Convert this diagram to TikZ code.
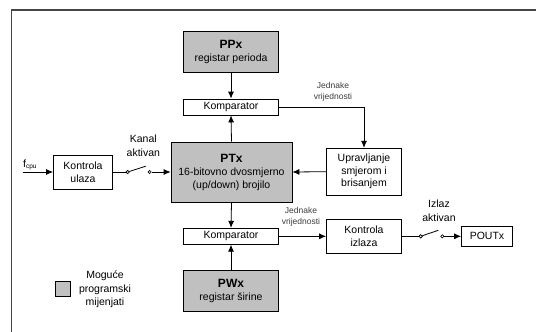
\documentclass[tikz,border=0pt]{standalone}
\usepackage{fontspec}
\setmainfont{Liberation Sans}
\usetikzlibrary{arrows.meta}
\definecolor{regfill}{RGB}{192,192,192}
\definecolor{framecol}{RGB}{70,70,70}
\definecolor{smalltxt}{RGB}{60,60,60}
\begin{document}
\begin{tikzpicture}[x=1pt,y=-1pt,
  box/.style={draw, line width=0.8pt, align=center, inner sep=0pt,
    font=\fontsize{10.5}{12.5}\selectfont},
  regbox/.style={box, fill=regfill},
  arr/.style={-{Latex[length=7pt,width=6pt]}, line width=0.8pt},
  ln/.style={line width=0.8pt},
  lbl/.style={align=center, inner sep=0pt, font=\fontsize{10.5}{13.3}\selectfont},
  small/.style={align=center, inner sep=0pt, text=smalltxt, font=\fontsize{8.5}{11}\selectfont},
  contact/.style={circle, draw, fill=white, line width=0.6pt, inner sep=0pt, minimum size=3.2pt}
]
\useasboundingbox (0,0) rectangle (536,332);
\fill[white] (0,0) rectangle (536,332);
% frame
\draw[line width=1.2pt, framecol] (11.7,332) -- (11.7,10) -- (536,10);

% boxes
\node[regbox, minimum width=95pt, minimum height=41pt] (pp) at (231,52)
  {{\fontsize{12}{14}\selectfont\bfseries PPx}\\[1pt]registar perioda};
\node[box, fill=white, minimum width=95pt, minimum height=16pt] (k1) at (231,107) {Komparator};
\node[regbox, minimum width=121pt, minimum height=60pt] (pt) at (231.5,172)
  {{\fontsize{12}{14}\selectfont\bfseries PTx}\\[1pt]16-bitovno dvosmjerno\\(up/down) brojilo};
\node[box, minimum width=75pt, minimum height=47pt] (up) at (364,171.7)
  {Upravljanje\\smjerom i\\brisanjem};
\node[box, minimum width=59pt, minimum height=34pt] (kul) at (83,172) {Kontrola\\ulaza};
\node[box, fill=white, minimum width=95pt, minimum height=16pt] (k2) at (231,236.3) {Komparator};
\node[box, minimum width=75pt, minimum height=34pt] (kiz) at (364,236.3) {Kontrola\\izlaza};
\node[box, minimum width=51pt, minimum height=20pt] (pout) at (487,236.3) {POUTx};
\node[regbox, minimum width=95pt, minimum height=41pt] (pw) at (231,291)
  {{\fontsize{12}{14}\selectfont\bfseries PWx}\\[1pt]registar širine};

% legend
\node[regbox, minimum width=15.5pt, minimum height=14.5pt] (leg) at (63,289) {};
\node[lbl] (legt) at (105,289.5) {Moguće\\programski\\mijenjati};

% vertical connections
\draw[arr] (pp.south) -- (k1.north);
\draw[arr] (pt.north) -- (k1.south);
\draw[arr] (pt.south) -- (k2.north);
\draw[arr] (pw.north) -- (k2.south);

% top comparator to direction control
\draw[arr] (k1.east) -| (up.north);
\node[small] (jv1) at (333,92) {Jednake\\vrijednosti};
\draw[arr] (up.west) -- (pt.west -| pt.east);

% bottom comparator to output control
\draw[arr] (k2.east) -- (kiz.west);
\node[small] (jv2) at (301,217) {Jednake\\vrijednosti};

% input
\coordinate (fin) at (22.7,172);
\draw[arr] (fin) -- (kul.west);
\node[inner sep=0pt, anchor=base west, font=\fontsize{10.5}{12}\selectfont] (fcpu) at (23,167)
  {f\raisebox{-0.35ex}{\fontsize{6.5}{7}\selectfont cpu}};

% input switch
\node[contact] (s1a) at (127.7,172) {};
\node[contact] (s1b) at (149.7,172) {};
\coordinate (s1blade) at (145.7,166.2);
\draw[ln] (kul.east) -- (s1a.west);
\draw[ln] (s1a.center) -- (s1blade);
\node[contact] at (127.7,172) {};
\draw[arr] (s1b.east) -- (pt.west);
\node[lbl] (kanal) at (143.3,145.7) {Kanal\\aktivan};

% output switch
\node[contact] (s2a) at (420.7,236.3) {};
\node[contact] (s2b) at (442.3,236.3) {};
\coordinate (s2blade) at (438.3,230.3);
\draw[ln] (kiz.east) -- (s2a.west);
\draw[ln] (s2a.center) -- (s2blade);
\node[contact] at (420.7,236.3) {};
\draw[arr] (s2b.east) -- (pout.west);
\node[lbl] (izlaz) at (439,210.7) {Izlaz\\aktivan};
\end{tikzpicture}
\end{document}
